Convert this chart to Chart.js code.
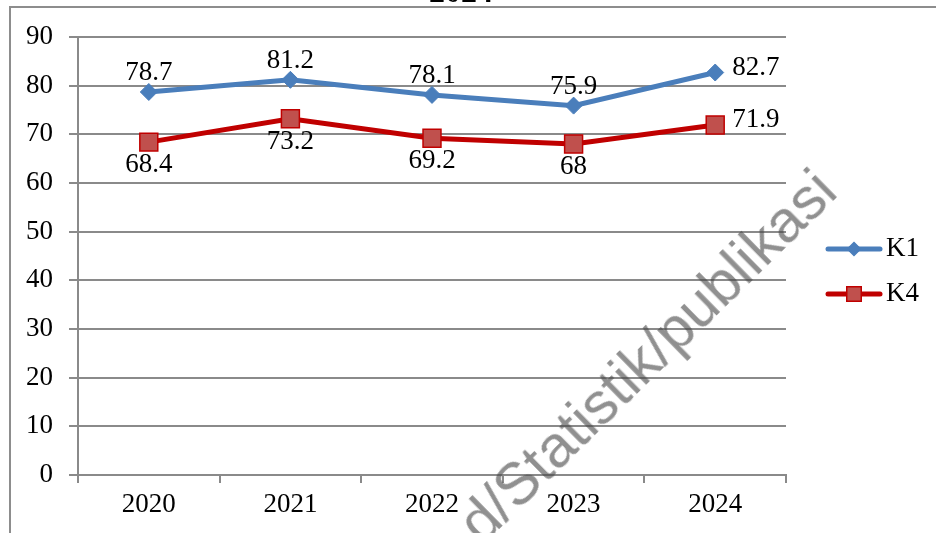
<!DOCTYPE html>
<html>
<head>
<meta charset="utf-8">
<script src="https://cdn.jsdelivr.net/npm/chart.js@4.4.1/dist/chart.umd.min.js"></script>
<style>
  html, body { margin: 0; padding: 0; background: #fff; overflow: hidden; }
  #wrap { position: relative; width: 936px; height: 533px; overflow: hidden; }
  #c { position: absolute; left: 0; top: 0; }
  .frame { position: absolute; left: 9px; top: 6px; width: 1000px; height: 600px;
    border-left: 2px solid #8d8d8d; border-top: 2px solid #8d8d8d; pointer-events: none; }
  .title { position: absolute; top: -25px; left: 0; width: 922px; text-align: center;
    font: bold 32px 'Liberation Serif', 'Times New Roman', serif; line-height: 32px; }
  .wm { position: absolute; left: 482px; top: 497px; white-space: nowrap;
    font: 59px 'Liberation Sans', Arial, sans-serif; line-height: 58px;
    color: rgba(70, 70, 70, 0.6); transform-origin: 0 49px; transform: rotate(-44.5deg);
    filter: blur(0.7px); pointer-events: none; }
</style>
</head>
<body>
<div id="wrap">
  <canvas id="c" width="936" height="533"></canvas>
  <div class="frame"></div>
  <div class="title">2024</div>
  <div class="wm">d/Statistik/publikasi</div>
</div>
<script>
const years = ['2020', '2021', '2022', '2023', '2024'];
const k1 = [78.7, 81.2, 78.1, 75.9, 82.7];
const k4 = [68.4, 73.2, 69.2, 68, 71.9];
const k1Pos = ['above', 'above', 'above', 'above', 'right'];
const k4Pos = ['below', 'below', 'below', 'below', 'right'];
const labelPos = [k1Pos, k4Pos];

const blue = '#4a7ebb';
const red = '#c00000';
const redFill = '#c0504d';
const gridGray = '#8a8a8a';

Chart.defaults.font.family = "'Liberation Serif', 'Times New Roman', serif";
Chart.defaults.font.size = 27;
Chart.defaults.color = '#000';

// small picture of line + marker for the legend
function legendIcon(lineColor, fill, border, shape) {
  const c = document.createElement('canvas');
  c.width = 60; c.height = 20;
  const g = c.getContext('2d');
  g.strokeStyle = lineColor; g.lineWidth = 5; g.lineCap = 'round';
  g.beginPath(); g.moveTo(4, 10); g.lineTo(56, 10); g.stroke();
  g.fillStyle = fill; g.strokeStyle = border; g.lineWidth = 1.5;
  if (shape === 'diamond') {
    g.beginPath(); g.moveTo(30, 3.5); g.lineTo(36.5, 10); g.lineTo(30, 16.5); g.lineTo(23.5, 10);
    g.closePath(); g.fill(); g.stroke();
  } else {
    g.fillRect(22, 2, 16, 16); g.strokeRect(22.75, 2.75, 14.5, 14.5);
  }
  return c;
}
const icons = [legendIcon(blue, blue, blue, 'diamond'), legendIcon(red, redFill, red, 'square')];

const valueLabels = {
  id: 'valueLabels',
  afterDatasetsDraw(chart) {
    const ctx = chart.ctx;
    ctx.save();
    ctx.font = "27px 'Liberation Serif', 'Times New Roman', serif";
    ctx.fillStyle = '#000';
    ctx.textBaseline = 'middle';
    chart.data.datasets.forEach((ds, i) => {
      chart.getDatasetMeta(i).data.forEach((pt, j) => {
        const pos = labelPos[i][j];
        const txt = String(ds.data[j]);
        if (pos === 'right') {
          ctx.textAlign = 'left';
          ctx.fillText(txt, pt.x + 17, pt.y - 5);
        } else if (pos === 'above') {
          ctx.textAlign = 'center';
          ctx.fillText(txt, pt.x, pt.y - 19);
        } else {
          ctx.textAlign = 'center';
          ctx.fillText(txt, pt.x, pt.y + 23);
        }
      });
    });
    ctx.restore();
  }
};

// move the legend a bit right / up, chart area stays where it is
const legendShift = {
  id: 'legendShift',
  afterLayout(chart) {
    const lg = chart.legend;
    const w = lg.width;
    lg.left = 817.5; lg.right = lg.left + w;
    lg.top -= 13.5; lg.bottom -= 13.5;
  }
};

new Chart(document.getElementById('c'), {
  type: 'line',
  data: {
    labels: years,
    datasets: [
      {
        label: 'K1',
        data: k1,
        borderColor: blue,
        backgroundColor: blue,
        borderWidth: 5,
        pointStyle: 'rectRot',
        pointRadius: 8.5,
        pointBorderWidth: 1,
        pointBackgroundColor: blue,
        pointBorderColor: blue,
        tension: 0
      },
      {
        label: 'K4',
        data: k4,
        borderColor: red,
        backgroundColor: redFill,
        borderWidth: 5,
        pointStyle: 'rect',
        pointRadius: 12.7,
        pointBorderWidth: 1.5,
        pointBackgroundColor: redFill,
        pointBorderColor: red,
        tension: 0
      }
    ]
  },
  options: {
    responsive: false,
    animation: false,
    events: [],
    layout: { padding: { top: 37, right: 38.5, bottom: 0, left: 0 } },
    plugins: {
      tooltip: { enabled: false },
      legend: {
        position: 'right',
        labels: {
          usePointStyle: true,
          pointStyleWidth: 37,
          padding: 18,
          color: '#000',
          font: { size: 27 },
          generateLabels: (chart) => chart.data.datasets.map((ds, i) => ({
            text: ds.label,
            pointStyle: icons[i],
            datasetIndex: i,
            fillStyle: ds.backgroundColor,
            strokeStyle: ds.borderColor,
            lineWidth: 0,
            hidden: false
          }))
        }
      }
    },
    scales: {
      x: {
        offset: true,
        grid: { offset: true, drawOnChartArea: false, drawTicks: true, tickLength: 8, color: gridGray, lineWidth: 2 },
        border: { color: gridGray, width: 2 },
        ticks: { color: '#000', padding: 6, maxRotation: 0 },
        afterFit: (s) => { s.height = 58; }
      },
      y: {
        min: 0,
        max: 90,
        ticks: { stepSize: 10, color: '#000', padding: 16 },
        grid: { color: gridGray, lineWidth: 2, tickLength: 9 },
        border: { color: gridGray, width: 2 },
        afterFit: (s) => { s.width = 78; }
      }
    }
  },
  plugins: [valueLabels, legendShift]
});
</script>
</body>
</html>
